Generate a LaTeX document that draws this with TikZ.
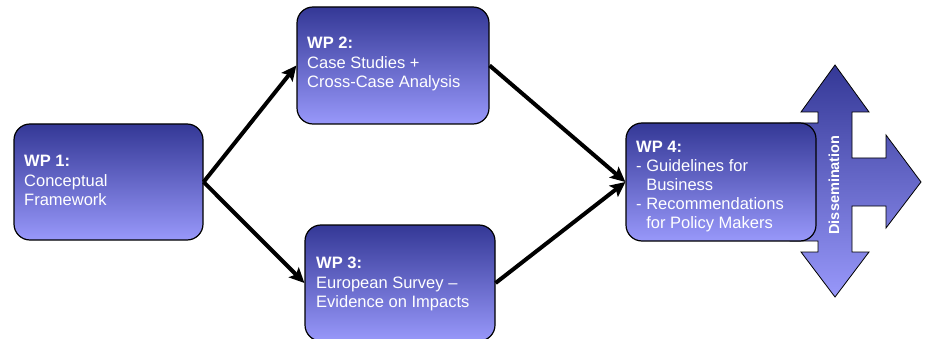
\documentclass[tikz,border=0pt]{standalone}
\usepackage{fontspec}
\setmainfont{Liberation Sans}
\usetikzlibrary{arrows.meta}
\definecolor{wptop}{RGB}{52,56,150}
\definecolor{wpbot}{RGB}{152,152,250}
\begin{document}
\begin{tikzpicture}[x=1pt,y=-1pt,
  wpbox/.style={draw=black, line width=1.2pt, rounded corners=16pt,
    top color=wptop, bottom color=wpbot, inner sep=0pt},
  wptext/.style={anchor=north west, align=left, inner sep=0pt, text=white,
    font=\fontsize{16.5}{19.5}\selectfont},
  conn/.style={line width=4pt, -{Stealth[length=15pt,width=14pt,inset=3pt]}},
  dissshape/.style={draw=black, line width=0.8pt, top color=wptop, bottom color=wpbot}
]
\useasboundingbox (0,0) rectangle (928,339);
% dissemination three-way arrow
\draw[dissshape] (835,65) -- (869,112) -- (852,112) -- (852,158) -- (886,158) -- (886,135)
  -- (921,182) -- (886,228) -- (886,206) -- (852,206) -- (852,252) -- (869,252)
  -- (835,297) -- (801,252) -- (818,252) -- (818,241) -- (790,241) -- (790,123)
  -- (818,123) -- (818,112) -- (801,112) -- cycle;
\node[rotate=90, text=white, inner sep=0pt, font=\bfseries\fontsize{14.5}{14.5}\selectfont] (diss) at (834,185) {Dissemination};
% boxes
\node[wpbox, minimum width=189pt, minimum height=116pt] (wp1) at (108.5,182) {};
\node[wpbox, minimum width=192pt, minimum height=117pt] (wp2) at (393,65.5) {};
\node[wpbox, minimum width=190pt, minimum height=116pt] (wp3) at (400,283) {};
\node[wpbox, minimum width=190pt, minimum height=118pt] (wp4) at (721,182) {};
% texts
\node[wptext] (t1) at (24,155) {\textbf{WP 1:}\\Conceptual\\Framework};
\node[wptext] (t2) at (307,37) {\textbf{WP 2:}\\Case Studies +\\Cross-Case Analysis};
\node[wptext] (t3) at (316,257) {\textbf{WP 3:}\\European Survey --\\Evidence on Impacts};
\node[wptext, font=\fontsize{16.5}{19}\selectfont] (t4) at (636,141) {\textbf{WP 4:}\\- Guidelines for\\\hphantom{- }Business\\- Recommendations\\\hphantom{- }for Policy Makers};
% connectors
\draw[conn] (wp1.east) -- (wp2.west);
\draw[conn] (wp1.east) -- (wp3.west);
\draw[conn] (wp2.east) -- (wp4.west);
\draw[conn] (wp3.east) -- (wp4.west);
\end{tikzpicture}
\end{document}
